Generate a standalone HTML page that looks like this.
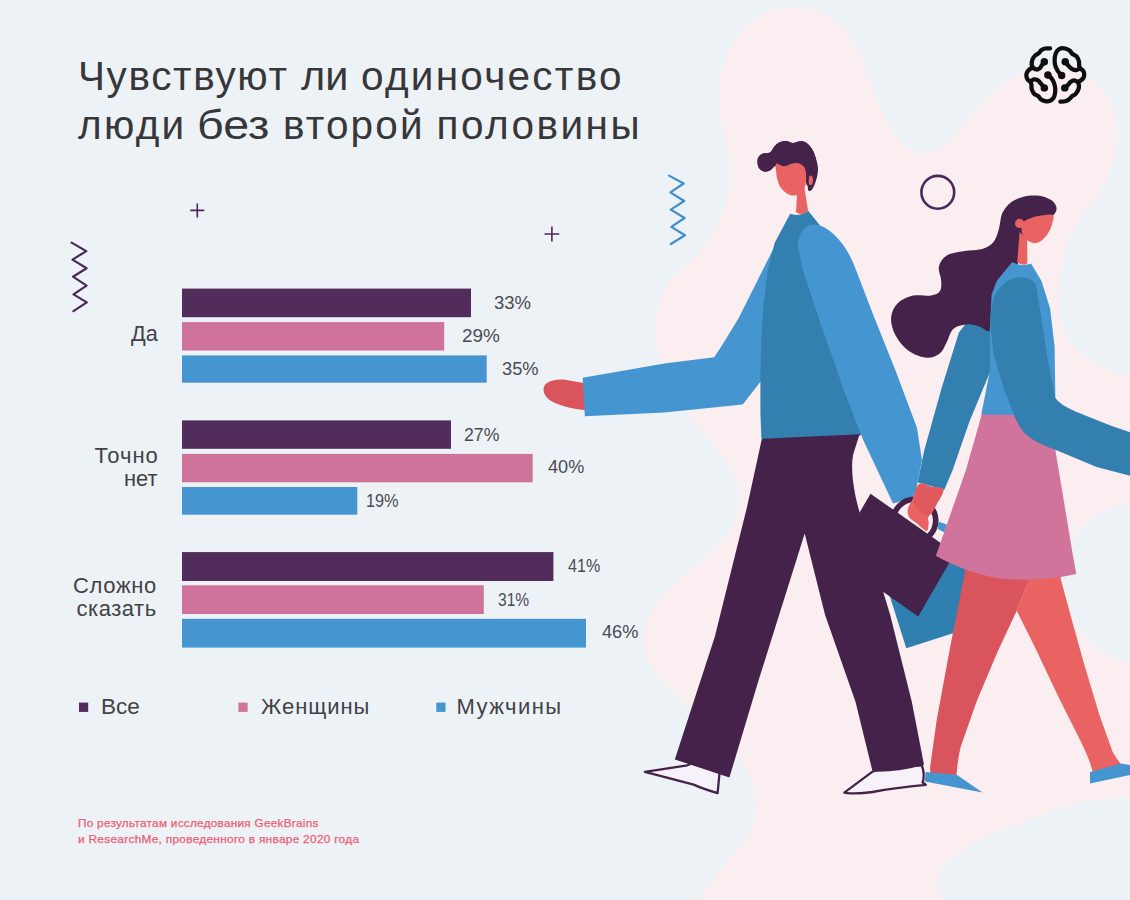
<!DOCTYPE html>
<html lang="ru">
<head>
<meta charset="utf-8">
<title>Чувствуют ли одиночество люди без второй половины</title>
<style>
  html, body { margin: 0; padding: 0; }
  body { width: 1130px; height: 900px; overflow: hidden; background: #edf2f7; font-family: "Liberation Sans", sans-serif; color: #38383b; }
  #stage { position: relative; width: 1130px; height: 900px; overflow: hidden; background: #edf2f7; }
  #art { position: absolute; left: 0; top: 0; width: 1130px; height: 900px; }
  .t { position: absolute; white-space: nowrap; line-height: 1; transform-origin: 0 0; }
  .title { color: #37373a; }
  .cat { color: #424246; }
  .val { color: #4a4b50; }
  .leg { color: #424246; }
  .foot { color: #ec5f76; -webkit-text-stroke: 0.25px #ec5f76; }
</style>
</head>
<body>
<div id="stage">
<svg id="art" viewBox="0 0 1130 900" width="1130" height="900">
  <!-- BLOB -->
  <g id="blob">
    <path d="M 798.0 7.0 C 809.4 7.8, 823.4 12.6, 832.9 18.7 C 842.4 24.8, 849.0 34.8, 854.7 43.6 C 860.4 52.4, 863.0 61.2, 867.1 71.6 C 871.2 82.0, 874.9 95.4, 879.6 105.8 C 884.3 116.2, 889.9 126.6, 895.1 133.8 C 900.3 141.1, 905.6 146.1, 910.7 149.3 C 915.9 152.5, 920.6 153.5, 926.0 153.0 C 931.4 152.5, 938.1 149.5, 943.3 146.2 C 948.5 142.9, 952.5 138.0, 957.0 133.0 C 961.5 128.0, 964.5 122.3, 970.0 116.0 C 975.5 109.7, 983.3 101.1, 990.0 95.0 C 996.7 88.9, 1003.3 83.4, 1010.0 79.5 C 1016.7 75.6, 1022.7 73.2, 1030.0 71.5 C 1037.3 69.8, 1046.0 68.8, 1054.0 69.0 C 1062.0 69.2, 1070.7 70.3, 1078.0 73.0 C 1085.3 75.7, 1092.3 79.7, 1098.0 85.0 C 1103.7 90.3, 1108.8 97.8, 1112.0 105.0 C 1115.2 112.2, 1116.8 120.5, 1117.5 128.0 C 1118.2 135.5, 1117.4 142.3, 1116.0 150.0 C 1114.6 157.7, 1112.0 166.5, 1109.0 174.0 C 1106.0 181.5, 1102.8 187.7, 1098.0 195.0 C 1093.2 202.3, 1085.2 209.7, 1080.0 218.0 C 1074.8 226.3, 1070.2 236.2, 1067.0 245.0 C 1063.8 253.8, 1062.5 262.2, 1061.0 271.0 C 1059.5 279.8, 1058.0 289.5, 1058.0 298.0 C 1058.0 306.5, 1058.8 314.5, 1061.0 322.0 C 1063.2 329.5, 1066.2 336.8, 1071.0 343.0 C 1075.8 349.2, 1083.3 354.5, 1090.0 359.0 C 1096.7 363.5, 1104.3 367.3, 1111.0 370.0 C 1117.7 372.7, 1123.5 373.7, 1130.0 375.0 C 1136.5 376.3, 1146.7 358.0, 1150.0 378.0 C 1153.3 398.0, 1153.3 474.5, 1150.0 495.0 C 1146.7 515.5, 1138.8 497.7, 1130.0 501.0 C 1121.2 504.3, 1106.0 509.2, 1097.0 515.0 C 1088.0 520.8, 1081.3 527.2, 1076.0 536.0 C 1070.7 544.8, 1067.2 558.5, 1065.0 568.0 C 1062.8 577.5, 1061.2 583.5, 1063.0 593.0 C 1064.8 602.5, 1069.7 615.5, 1076.0 625.0 C 1082.3 634.5, 1092.0 643.5, 1101.0 650.0 C 1110.0 656.5, 1121.8 661.0, 1130.0 664.0 C 1138.2 667.0, 1146.7 646.0, 1150.0 668.0 C 1153.3 690.0, 1153.3 774.5, 1150.0 796.0 C 1146.7 817.5, 1141.7 795.8, 1130.0 797.0 C 1118.3 798.2, 1096.7 799.2, 1080.0 803.0 C 1063.3 806.8, 1046.7 813.8, 1030.0 820.0 C 1013.3 826.2, 993.8 832.8, 980.0 840.0 C 966.2 847.2, 954.0 855.8, 947.0 863.0 C 940.0 870.2, 938.8 876.8, 938.0 883.0 C 937.2 889.2, 941.0 893.8, 942.0 900.0 C 943.0 906.2, 986.0 916.7, 944.0 920.0 C 902.0 923.3, 730.5 923.3, 690.0 920.0 C 649.5 916.7, 698.3 905.3, 701.0 900.0 C 703.7 894.7, 701.5 894.5, 706.0 888.0 C 710.5 881.5, 720.5 870.7, 728.0 861.0 C 735.5 851.3, 746.5 841.3, 751.0 830.0 C 755.5 818.7, 756.5 804.3, 755.0 793.0 C 753.5 781.7, 749.5 773.2, 742.0 762.0 C 734.5 750.8, 722.0 738.0, 710.0 726.0 C 698.0 714.0, 679.7 699.7, 670.0 690.0 C 660.3 680.3, 656.3 675.5, 652.0 668.0 C 647.7 660.5, 645.2 651.7, 644.0 645.0 C 642.8 638.3, 644.0 632.9, 645.0 628.0 C 646.0 623.1, 646.6 621.4, 650.0 615.6 C 653.4 609.8, 658.9 600.7, 665.6 593.3 C 672.3 585.9, 681.9 578.4, 690.0 571.0 C 698.1 563.6, 707.4 556.4, 714.4 549.0 C 721.4 541.6, 728.1 534.1, 732.2 526.7 C 736.3 519.3, 738.1 511.8, 738.9 504.4 C 739.6 497.0, 738.9 489.3, 736.7 482.2 C 734.5 475.1, 729.9 468.7, 725.6 462.0 C 721.3 455.3, 716.4 449.0, 711.0 442.0 C 705.6 435.0, 699.0 427.8, 693.0 420.0 C 687.0 412.2, 680.3 405.0, 675.0 395.0 C 669.7 385.0, 664.5 370.8, 661.0 360.0 C 657.5 349.2, 654.0 340.3, 654.0 330.0 C 654.0 319.7, 658.2 306.3, 661.0 298.0 C 663.8 289.7, 667.2 285.1, 671.0 280.0 C 674.8 274.9, 678.4 272.8, 683.6 267.6 C 688.8 262.4, 696.5 256.2, 702.2 248.9 C 707.9 241.6, 713.6 232.3, 717.8 224.0 C 721.9 215.7, 725.0 207.4, 727.1 199.1 C 729.2 190.8, 730.2 182.5, 730.2 174.2 C 730.2 165.9, 728.4 157.6, 727.1 149.3 C 725.8 141.0, 723.8 133.8, 722.5 124.5 C 721.2 115.2, 719.0 103.7, 719.3 93.3 C 719.5 82.9, 720.6 72.0, 724.0 62.2 C 727.4 52.4, 732.9 42.2, 739.6 34.2 C 746.4 26.2, 754.8 18.5, 764.5 14.0 C 774.2 9.5, 786.6 6.2, 798.0 7.0 Z" fill="#faeef1" />
  </g>
  <!-- DECOR -->
  <g id="decor">
    <path d="M 71.6 242.6 L 86.3 251.1 L 72.5 259.6 L 86.6 268.2 L 73.0 276.7 L 86.6 285.6 L 73.5 294.4 L 86.8 302.4 L 73.4 311.2" fill="none" stroke="#4a2859" stroke-width="2.2" stroke-linecap="round" stroke-linejoin="round"/>
    <path d="M 669.0 175.6 L 683.7 183.5 L 670.4 192.4 L 684.2 201.0 L 670.8 209.6 L 684.6 218.0 L 671.3 226.9 L 685.0 235.2 L 670.8 244.0" fill="none" stroke="#3f8fcf" stroke-width="2.2" stroke-linecap="round" stroke-linejoin="round"/>
    <path d="M 190.3 210.4 H 204.3 M 197.3 203.4 V 217.4" stroke="#4a2859" stroke-width="1.6" fill="none"/>
    <path d="M 544.5 234 H 559.3 M 551.9 226.6 V 241.4" stroke="#4a2859" stroke-width="1.6" fill="none"/>
    <circle cx="937.8" cy="192.3" r="16.4" fill="none" stroke="#4a2859" stroke-width="2.6"/>
  </g>
  <!-- BARS -->
  <g id="bars">
    <rect x="182" y="288.6" width="289" height="28.6" fill="#522c5b"/>
    <rect x="182" y="322.1" width="262.2" height="28.4" fill="#d0739a"/>
    <rect x="182" y="355.4" width="304.7" height="27.3" fill="#4595d0"/>

    <rect x="182" y="420.4" width="269" height="28.4" fill="#522c5b"/>
    <rect x="182" y="453.9" width="350.7" height="28.4" fill="#d0739a"/>
    <rect x="182" y="487" width="175.3" height="27.7" fill="#4595d0"/>

    <rect x="182" y="552.1" width="371.4" height="28.9" fill="#522c5b"/>
    <rect x="182" y="585.3" width="301.8" height="28.7" fill="#d0739a"/>
    <rect x="182" y="618.8" width="404" height="28.8" fill="#4595d0"/>

    <rect x="79" y="702.6" width="9.2" height="9.3" fill="#522c5b"/>
    <rect x="238.4" y="702.6" width="9.2" height="9.3" fill="#d0739a"/>
    <rect x="436.3" y="702.6" width="9.2" height="9.3" fill="#4595d0"/>
  </g>
  <!-- FIGURES -->
  <g id="figures">
    <path d="M 583.5 383.0 C 577.0 382.4, 567.1 379.6, 561.0 379.6 C 554.9 379.6, 549.9 381.2, 547.0 383.0 C 544.1 384.8, 543.3 387.8, 543.6 390.5 C 543.9 393.2, 545.4 396.8, 549.0 399.5 C 552.6 402.2, 559.1 404.8, 565.0 406.5 C 570.9 408.2, 578.7 409.6, 584.5 410.0 C 590.3 410.4, 597.4 413.5, 600.0 409.0 C 602.6 404.5, 602.8 387.3, 600.0 383.0 C 597.2 378.7, 590.0 383.6, 583.5 383.0 Z" fill="#d9545c" />
    <path d="M 790.7 214.2 L 771.1 253.3 L 739.1 317.3 Q 722 346 714.2 357.2 L 664.4 363.6 L 582.7 377.8 L 584.8 416.2 L 664.4 412.6 L 742.7 404.4 L 762.2 379.6 L 790 330 L 810 230 Z" fill="#4596d0" />
    <path d="M 888.4 591.8 L 906.3 648.3 L 985.0 623.0 L 985.0 556.0 L 925.0 556.0 Z" fill="#2f7fb0" />
    <path d="M 644.9 771.9 L 687.3 765.3 L 700 760 L 719.6 772 L 717.6 793.1 Q 702 788.5 693.7 784.6 Z" fill="#f7f2f9" stroke="#44224a" stroke-width="2.3" stroke-linejoin="round"/>
    <path d="M 844.3 792.6 L 872.5 771.7 L 890 765 L 921.9 765.5 Q 925.2 775 922.6 782.5 L 925.8 784.8 Q 895 787.5 872.5 792 Q 856 794.6 844.3 792.6 Z" fill="#f7f2f9" stroke="#44224a" stroke-width="2.3" stroke-linejoin="round"/>
    <path d="M 762.2 437.3 L 747.1 506.7 L 714.8 636.8 L 674.8 759.4 L 729.4 777.6 L 758.6 680.2 L 804.7 533.6 L 825.1 615.1 L 855.5 701.8 L 872.6 771.6 Q 898 772.5 924 764.7 L 911.8 701.8 L 890.2 615.1 L 864.1 528.4 Q 856.5 502 855 493.7 Q 850.5 470 853 455 L 859 436 L 866 430 L 762 430 Z" fill="#44224a" />
    <path d="M 790.2 213.8 Q 799 217 808.2 210.7 L 822 228 L 852 300 L 866 433.9 L 761.4 438.8 L 760.4 413.3 L 760.4 377.8 L 761.2 342.2 L 763.3 306.7 L 767.6 271.1 L 774.7 242.7 Z" fill="#3380b0" />
    <path d="M 757.5 162.0 C 757.4 160.2, 757.6 158.4, 758.5 157.0 C 759.4 155.6, 761.1 154.2, 763.0 153.5 C 764.9 152.8, 768.2 153.6, 770.0 152.5 C 771.8 151.4, 772.5 148.7, 774.0 147.0 C 775.5 145.3, 777.0 143.5, 779.0 142.5 C 781.0 141.5, 783.7 140.9, 786.0 141.0 C 788.3 141.1, 790.7 143.0, 793.0 143.0 C 795.3 143.0, 797.8 141.3, 800.0 141.2 C 802.2 141.1, 804.0 141.2, 806.0 142.5 C 808.0 143.8, 810.3 146.2, 812.0 149.0 C 813.7 151.8, 815.0 155.8, 816.0 159.0 C 817.0 162.2, 817.8 165.0, 818.0 168.0 C 818.2 171.0, 817.7 174.0, 817.0 177.0 C 816.3 180.0, 815.0 183.8, 814.0 186.0 C 813.0 188.2, 812.0 189.8, 811.0 190.5 C 810.0 191.2, 808.9 191.3, 808.2 190.2 C 807.5 189.1, 808.4 186.5, 807.0 184.0 C 805.6 181.5, 803.7 177.7, 800.0 175.0 C 796.3 172.3, 789.2 169.5, 785.0 168.0 C 780.8 166.5, 777.5 165.6, 775.0 166.0 C 772.5 166.4, 771.8 169.6, 770.0 170.5 C 768.2 171.4, 765.8 171.9, 764.0 171.5 C 762.2 171.1, 760.1 169.6, 759.0 168.0 C 757.9 166.4, 757.6 163.8, 757.5 162.0 Z" fill="#44224a" />
    <path d="M 797.3 190 L 796 212 Q 801 216.5 808 210.5 L 804.3 187 Z" fill="#ea6363" />
    <path d="M 776.2 160.0 C 774.2 162.7, 776.0 168.7, 776.2 172.0 C 776.4 175.3, 776.7 177.3, 777.5 180.0 C 778.3 182.7, 779.4 185.8, 781.0 188.0 C 782.6 190.2, 785.0 192.2, 787.0 193.5 C 789.0 194.8, 791.0 195.5, 793.0 195.6 C 795.0 195.7, 797.2 195.0, 799.0 194.0 C 800.8 193.0, 802.5 191.2, 803.6 189.5 C 804.7 187.8, 805.2 186.9, 805.6 184.0 C 806.0 181.1, 807.2 176.3, 806.3 172.0 C 805.4 167.7, 803.0 160.7, 800.0 158.0 C 797.0 155.3, 792.0 155.7, 788.0 156.0 C 784.0 156.3, 778.2 157.3, 776.2 160.0 Z" fill="#ea6363" />
    <ellipse cx="810.6" cy="180.2" rx="2.4" ry="4.8" fill="#ea6363"/>
    <path d="M 757.5 162.0 C 757.4 160.2, 757.6 158.4, 758.5 157.0 C 759.4 155.6, 761.1 154.2, 763.0 153.5 C 764.9 152.8, 768.2 153.6, 770.0 152.5 C 771.8 151.4, 772.5 148.7, 774.0 147.0 C 775.5 145.3, 777.0 143.5, 779.0 142.5 C 781.0 141.5, 783.7 140.9, 786.0 141.0 C 788.3 141.1, 790.7 143.0, 793.0 143.0 C 795.3 143.0, 797.8 141.3, 800.0 141.2 C 802.2 141.1, 804.0 141.2, 806.0 142.5 C 808.0 143.8, 810.3 146.2, 812.0 149.0 C 813.7 151.8, 815.5 156.0, 816.0 159.0 C 816.5 162.0, 815.9 164.7, 815.0 167.0 C 814.1 169.3, 811.5 171.1, 810.5 173.0 C 809.5 174.9, 809.2 176.6, 808.8 178.5 C 808.4 180.4, 808.7 183.5, 808.3 184.6 C 807.9 185.7, 807.0 186.4, 806.6 184.8 C 806.2 183.2, 806.5 177.7, 806.2 175.0 C 805.9 172.3, 805.7 170.2, 805.0 168.5 C 804.3 166.8, 803.3 165.9, 802.0 165.0 C 800.7 164.1, 798.7 163.2, 797.0 163.0 C 795.3 162.8, 793.8 163.1, 792.0 163.6 C 790.2 164.1, 787.8 165.7, 786.0 166.0 C 784.2 166.3, 782.5 165.9, 781.0 165.5 C 779.5 165.1, 778.0 163.4, 777.0 163.5 C 776.0 163.6, 776.2 164.8, 775.0 166.0 C 773.8 167.2, 771.8 169.6, 770.0 170.5 C 768.2 171.4, 765.8 171.9, 764.0 171.5 C 762.2 171.1, 760.1 169.6, 759.0 168.0 C 757.9 166.4, 757.6 163.8, 757.5 162.0 Z" fill="#44224a" />
    <path d="M 813.6 224.5 C 806 224.5, 799 231, 797.6 244.4 L 803.1 271.1 L 820.9 324.4 L 845.8 395.6 L 863.2 440 L 893 503.5 L 912.5 498 L 916 490 L 922 460 L 916.9 427.6 L 895.6 370.7 L 874.2 317.3 L 856.4 271.1 Q 848 247 833.1 233.8 Q 824 225 813.6 224.5 Z" fill="#4596d0" />
    <path d="M 975 312 L 958.9 332.6 L 941.7 387.7 L 924.4 449.7 L 917.6 482.6 L 944.3 489.8 L 952.5 470.4 L 969.2 422.2 L 990 372 L 998 332.6 L 1000 312 Z" fill="#3380b0" />
    <path d="M 870.5 493.7 L 955.0 553.0 L 918.2 616.4 L 833.7 557.1 Z" fill="#44224a" />
    <circle cx="914.5" cy="520.6" r="21.2" fill="none" stroke="#44224a" stroke-width="5.6"/>
    <path d="M 938.3 521.5 L 946.9 524.6 L 944.5 532.5 L 937.8 529.0 Z" fill="#4596d0" />
    <path d="M 937.3 497.6 L 939.8 498.4 L 939.2 500.8 L 937.0 500.2 Z" fill="#4596d0" />
    <path d="M 918.9 484.2 C 921.9 482.3, 926.9 485.6, 931.0 486.5 C 935.1 487.4, 942.4 486.8, 943.4 489.6 C 944.4 492.4, 939.1 499.4, 937.2 503.3 C 935.3 507.2, 933.7 510.4, 932.2 512.8 C 930.7 515.1, 928.8 515.6, 928.2 517.4 C 927.6 519.1, 928.9 521.0, 928.6 523.3 C 928.3 525.6, 928.6 531.0, 926.6 531.0 C 924.6 531.0, 919.6 525.6, 916.7 523.3 C 913.8 521.0, 910.8 519.6, 909.3 517.2 C 907.8 514.8, 907.2 512.1, 907.9 508.9 C 908.6 505.7, 911.5 501.9, 913.3 497.8 C 915.1 493.7, 915.9 486.1, 918.9 484.2 Z" fill="#ea6363" />
    <path d="M 918.9 484.6 C 921.8 482.8, 927.0 486.1, 931.0 487.0 C 935.0 487.9, 941.9 487.3, 942.9 490.0 C 943.9 492.7, 938.5 499.6, 936.7 503.3 C 934.9 507.0, 934.0 510.1, 932.0 512.0 C 930.0 513.9, 927.1 515.5, 924.4 514.6 C 921.7 513.7, 917.6 509.5, 915.8 506.7 C 914.0 503.9, 913.0 501.5, 913.5 497.8 C 914.0 494.1, 916.0 486.4, 918.9 484.6 Z" fill="#e0595f" />
    <path d="M 1056.6 208.6 C 1056.6 206.4, 1055.3 203.8, 1053.5 202.0 C 1051.7 200.2, 1048.8 198.7, 1046.0 197.6 C 1043.2 196.5, 1040.6 195.8, 1037.0 195.6 C 1033.4 195.4, 1028.7 195.3, 1024.4 196.4 C 1020.1 197.5, 1014.8 199.4, 1011.1 202.2 C 1007.4 205.0, 1004.2 208.9, 1002.2 213.3 C 1000.2 217.8, 1000.4 224.1, 998.9 228.9 C 997.4 233.7, 996.1 238.9, 993.3 242.2 C 990.5 245.5, 987.0 247.4, 982.2 248.9 C 977.4 250.4, 970.3 250.0, 964.4 251.1 C 958.5 252.2, 951.0 253.0, 946.7 255.6 C 942.5 258.2, 939.8 262.6, 938.9 266.7 C 938.0 270.8, 940.9 275.9, 941.1 280.0 C 941.3 284.1, 941.7 288.5, 940.0 291.1 C 938.3 293.7, 935.6 294.9, 931.1 295.6 C 926.6 296.4, 918.8 294.3, 913.3 295.6 C 907.8 296.9, 901.5 299.6, 897.8 303.3 C 894.1 307.0, 891.5 312.4, 891.1 317.8 C 890.7 323.2, 892.6 330.1, 895.6 335.6 C 898.6 341.2, 903.7 347.4, 908.9 351.1 C 914.1 354.8, 921.5 357.4, 926.7 357.8 C 931.9 358.2, 936.7 355.9, 940.0 353.3 C 943.3 350.7, 944.5 346.3, 946.7 342.2 C 948.9 338.1, 950.0 331.9, 953.3 328.9 C 956.6 325.9, 962.2 324.8, 966.7 324.4 C 971.2 324.0, 976.3 325.6, 980.0 326.7 C 983.7 327.8, 985.6 331.9, 988.9 331.1 C 992.2 330.3, 996.1 329.7, 1000.0 322.0 C 1003.9 314.3, 1008.3 297.0, 1012.0 285.0 C 1015.7 273.0, 1018.7 259.5, 1022.0 250.0 C 1025.3 240.5, 1028.0 233.1, 1032.0 228.0 C 1036.0 222.9, 1042.4 221.7, 1046.0 219.5 C 1049.6 217.3, 1051.8 216.8, 1053.6 215.0 C 1055.4 213.2, 1056.6 210.8, 1056.6 208.6 Z" fill="#44224a" />
    <path d="M 966 560 L 964.7 573.3 L 950 648 L 936.7 720 L 930 768 L 931 777.5 L 956.5 775 Q 957.5 760 960.7 746.7 L 976.7 701.3 L 998 650.7 L 1016.7 610.7 L 1030 578 L 1034 560 Z" fill="#d9545c" />
    <path d="M 1034 560 L 1029 580 L 1016.7 610.7 L 1035.3 648 L 1059.3 698.7 L 1080.7 741.3 Q 1090 760 1093 773 L 1121.5 765 Q 1116 758 1112.7 752 L 1099.3 714.7 L 1083.3 661.3 L 1070 613.3 L 1060.7 578.7 L 1062 560 Z" fill="#ea6363" />
    <path d="M 925.5 772.0 L 956.7 774.7 L 982.5 792.5 L 925.0 781.6 Z" fill="#4596d0" />
    <path d="M 1090.0 772.0 L 1120.7 763.6 L 1135.0 765.6 L 1135.0 774.0 L 1090.0 783.5 Z" fill="#4596d0" />
    <path d="M 983 410 L 965.8 470.4 L 935.9 555.8 C 950 564, 975 575, 1000 578.4 C 1025 581, 1052 579.5, 1076.3 574 L 1072.5 553 L 1062.2 491 L 1055.3 449.7 L 1052 410 Z" fill="#d0749c" />
    <path d="M 1012.2 262.1 Q 1021 266.5 1031.2 263.8 L 1041.5 281 L 1050.1 308.5 L 1054.6 346.4 L 1055.3 394.6 L 1055 415.5 L 981.3 414.6 L 989.9 370.5 L 989.9 329.2 L 991.6 294.8 L 996.7 281 Z" fill="#4596d0" />
    <path d="M 1019.6 232 L 1017.2 262.2 Q 1022 266 1027.4 263.4 L 1027.2 239 Z" fill="#ea6363" />
    <path d="M 1052.9 215.2 C 1054.7 216.6, 1052.8 221.1, 1052.1 224.0 C 1051.4 226.9, 1050.1 229.9, 1048.5 232.6 C 1046.9 235.2, 1044.5 238.1, 1042.3 239.9 C 1040.0 241.7, 1037.2 243.0, 1035.0 243.2 C 1032.8 243.4, 1030.7 242.3, 1028.9 241.3 C 1027.1 240.3, 1025.2 239.1, 1024.0 237.0 C 1022.8 234.9, 1021.5 231.6, 1021.5 229.0 C 1021.5 226.4, 1022.4 223.4, 1024.0 221.6 C 1025.6 219.8, 1028.5 218.9, 1031.3 217.9 C 1034.1 216.9, 1037.5 216.1, 1041.1 215.6 C 1044.7 215.1, 1051.1 213.8, 1052.9 215.2 Z" fill="#ea6363" />
    <circle cx="1019.6" cy="223.4" r="4.6" fill="#ea6363"/>
    <path d="M 1022.2 277.2 C 1010 277, 1000 284, 993.3 298 L 989.9 318.9 L 993.3 353.3 L 1003.6 387.7 L 1014 415.3 Q 1019 428 1027.7 436 Q 1038 444 1055.3 449.7 L 1096.6 466.9 L 1135 477 L 1135 434 L 1110.4 425.6 L 1076 411.8 Q 1060 405 1055.3 398.1 L 1048.4 363.6 L 1041.5 318.9 L 1036 284 Q 1031 277.5 1022.2 277.2 Z" fill="#3380b0" />
  </g><!--figures-end-->
  <!-- LOGO -->
  <g id="logo">
    <g transform="translate(1015,35) scale(0.08889)">
    <path fill="none" stroke="#0f0f10" stroke-width="48" stroke-linecap="round" stroke-linejoin="round" d="M 395.0 150.0 C 385.8 150.3, 356.7 148.3, 340.0 152.0 C 323.3 155.7, 307.0 163.2, 295.0 172.0 C 283.0 180.8, 279.7 195.0, 268.0 205.0 C 256.3 215.0, 237.2 219.5, 225.0 232.0 C 212.8 244.5, 201.2 262.8, 195.0 280.0 C 188.8 297.2, 187.2 320.3, 188.0 335.0 C 188.8 349.7, 203.8 359.7, 200.0 368.0 C 196.2 376.3, 175.8 376.3, 165.0 385.0 C 154.2 393.7, 141.2 406.7, 135.0 420.0 C 128.8 433.3, 126.3 450.8, 128.0 465.0 C 129.7 479.2, 137.7 495.5, 145.0 505.0 C 152.3 514.5, 165.3 512.8, 172.0 522.0 C 178.7 531.2, 182.3 545.3, 185.0 560.0 C 187.7 574.7, 183.0 593.3, 188.0 610.0 C 193.0 626.7, 202.7 647.0, 215.0 660.0 C 227.3 673.0, 249.5 677.7, 262.0 688.0 C 274.5 698.3, 277.0 712.5, 290.0 722.0 C 303.0 731.5, 322.5 742.0, 340.0 745.0 C 357.5 748.0, 379.2 746.7, 395.0 740.0 C 410.8 733.3, 425.5 721.7, 435.0 705.0 C 444.5 688.3, 449.8 662.5, 452.0 640.0 C 454.2 617.5, 452.5 591.7, 448.0 570.0 C 443.5 548.3, 433.8 526.7, 425.0 510.0 C 416.2 493.3, 404.2 480.0, 395.0 470.0 C 385.8 460.0, 374.2 453.3, 370.0 450.0"/>
    <path fill="none" stroke="#0f0f10" stroke-width="48" stroke-linecap="round" stroke-linejoin="round" d="M 200.0 368.0 C 206.7 371.3, 226.7 387.3, 240.0 388.0 C 253.3 388.7, 269.2 380.8, 280.0 372.0 C 290.8 363.2, 296.7 347.0, 305.0 335.0 C 313.3 323.0, 325.8 305.8, 330.0 300.0"/>
    <path fill="none" stroke="#0f0f10" stroke-width="48" stroke-linecap="round" stroke-linejoin="round" d="M 172.0 522.0 C 179.2 518.3, 200.7 502.0, 215.0 500.0 C 229.3 498.0, 245.5 502.5, 258.0 510.0 C 270.5 517.5, 278.0 530.8, 290.0 545.0 C 302.0 559.2, 323.3 586.7, 330.0 595.0"/>
    <path fill="none" stroke="#0f0f10" stroke-width="48" stroke-linecap="round" stroke-linejoin="round" d="M 510.0 750.0 C 519.2 749.2, 548.3 749.7, 565.0 745.0 C 581.7 740.3, 597.5 731.2, 610.0 722.0 C 622.5 712.8, 628.3 699.5, 640.0 690.0 C 651.7 680.5, 668.0 677.5, 680.0 665.0 C 692.0 652.5, 705.3 631.7, 712.0 615.0 C 718.7 598.3, 720.7 579.2, 720.0 565.0 C 719.3 550.8, 704.7 538.8, 708.0 530.0 C 711.3 521.2, 729.3 520.7, 740.0 512.0 C 750.7 503.3, 765.7 491.7, 772.0 478.0 C 778.3 464.3, 780.0 443.8, 778.0 430.0 C 776.0 416.2, 768.0 404.2, 760.0 395.0 C 752.0 385.8, 736.3 384.2, 730.0 375.0 C 723.7 365.8, 724.0 354.2, 722.0 340.0 C 720.0 325.8, 723.3 306.7, 718.0 290.0 C 712.7 273.3, 702.2 253.0, 690.0 240.0 C 677.8 227.0, 657.5 222.8, 645.0 212.0 C 632.5 201.2, 628.3 185.0, 615.0 175.0 C 601.7 165.0, 582.5 155.8, 565.0 152.0 C 547.5 148.2, 525.8 146.5, 510.0 152.0 C 494.2 157.5, 480.3 168.7, 470.0 185.0 C 459.7 201.3, 451.3 225.8, 448.0 250.0 C 444.7 274.2, 445.5 305.8, 450.0 330.0 C 454.5 354.2, 465.8 377.5, 475.0 395.0 C 484.2 412.5, 496.7 425.0, 505.0 435.0 C 513.3 445.0, 521.7 451.7, 525.0 455.0"/>
    <path fill="none" stroke="#0f0f10" stroke-width="48" stroke-linecap="round" stroke-linejoin="round" d="M 708.0 530.0 C 700.8 526.7, 678.8 510.3, 665.0 510.0 C 651.2 509.7, 636.2 519.7, 625.0 528.0 C 613.8 536.3, 608.8 548.8, 598.0 560.0 C 587.2 571.2, 566.3 589.2, 560.0 595.0"/>
    <path fill="none" stroke="#0f0f10" stroke-width="48" stroke-linecap="round" stroke-linejoin="round" d="M 730.0 375.0 C 723.0 378.3, 702.2 393.3, 688.0 395.0 C 673.8 396.7, 658.8 392.5, 645.0 385.0 C 631.2 377.5, 618.3 364.2, 605.0 350.0 C 591.7 335.8, 571.7 308.3, 565.0 300.0"/>
    <circle cx="330" cy="300" r="42" fill="#0f0f10"/>
    <circle cx="370" cy="450" r="42" fill="#0f0f10"/>
    <circle cx="330" cy="595" r="42" fill="#0f0f10"/>
    <circle cx="565" cy="300" r="42" fill="#0f0f10"/>
    <circle cx="525" cy="455" r="42" fill="#0f0f10"/>
    <circle cx="560" cy="595" r="42" fill="#0f0f10"/>
    </g>
  </g><!--logo-end-->
</svg>

<!-- TEXT-BEGIN -->
<div class="t title" id="w1" style="left:78.00px; top:56.22px; font-size:40.5px; letter-spacing:1.625px;">Чувствуют</div>
<div class="t title" id="w2" style="left:301.00px; top:56.22px; font-size:40.5px; letter-spacing:0.000px; transform:scaleX(1.0227);">ли</div>
<div class="t title" id="w3" style="left:361.00px; top:56.22px; font-size:40.5px; letter-spacing:2.260px;">одиночество</div>
<div class="t title" id="w4" style="left:78.00px; top:104.82px; font-size:40.5px; letter-spacing:2.267px;">люди</div>
<div class="t title" id="w5" style="left:196.50px; top:104.82px; font-size:40.5px; letter-spacing:0.000px; transform:scaleX(1.1501);">без</div>
<div class="t title" id="w6" style="left:283.00px; top:104.82px; font-size:40.5px; letter-spacing:2.120px;">второй</div>
<div class="t title" id="w7" style="left:436.50px; top:104.82px; font-size:40.5px; letter-spacing:2.457px;">половины</div>
<div class="t cat" id="c1" style="left:131.00px; top:322.88px; font-size:22px; letter-spacing:0.000px; transform:scaleX(0.9866);">Да</div>
<div class="t cat" id="c2a" style="left:94.50px; top:445.18px; font-size:22px; letter-spacing:1.000px;">Точно</div>
<div class="t cat" id="c2b" style="left:124.00px; top:468.28px; font-size:22px; letter-spacing:0.000px; transform:scaleX(0.9943);">нет</div>
<div class="t cat" id="c3a" style="left:73.00px; top:574.98px; font-size:22px; letter-spacing:0.640px;">Сложно</div>
<div class="t cat" id="c3b" style="left:76.50px; top:597.78px; font-size:22px; letter-spacing:0.533px;">сказать</div>
<div class="t val" id="v1" style="left:493.50px; top:294.59px; font-size:17.5px; letter-spacing:0.000px; transform:scaleX(1.0575);">33%</div>
<div class="t val" id="v2" style="left:462.00px; top:328.09px; font-size:17.5px; letter-spacing:0.000px; transform:scaleX(1.0802);">29%</div>
<div class="t val" id="v3" style="left:502.00px; top:360.99px; font-size:17.5px; letter-spacing:0.000px; transform:scaleX(1.0419);">35%</div>
<div class="t val" id="v4" style="left:464.00px; top:427.29px; font-size:17.5px; letter-spacing:0.000px; transform:scaleX(1.0123);">27%</div>
<div class="t val" id="v5" style="left:547.50px; top:459.39px; font-size:17.5px; letter-spacing:0.000px; transform:scaleX(1.0346);">40%</div>
<div class="t val" id="v6" style="left:365.50px; top:493.39px; font-size:17.5px; letter-spacing:0.000px; transform:scaleX(0.9295);">19%</div>
<div class="t val" id="v7" style="left:568.00px; top:558.39px; font-size:17.5px; letter-spacing:0.000px; transform:scaleX(0.9204);">41%</div>
<div class="t val" id="v8" style="left:498.00px; top:592.09px; font-size:17.5px; letter-spacing:0.000px; transform:scaleX(0.8893);">31%</div>
<div class="t val" id="v9" style="left:601.50px; top:623.89px; font-size:17.5px; letter-spacing:0.000px; transform:scaleX(1.0400);">46%</div>
<div class="t leg" id="l1" style="left:100.50px; top:696.08px; font-size:22px; letter-spacing:0.000px; transform:scaleX(1.0225);">Все</div>
<div class="t leg" id="l2" style="left:261.00px; top:696.28px; font-size:22px; letter-spacing:0.933px;">Женщины</div>
<div class="t leg" id="l3" style="left:456.50px; top:696.48px; font-size:22px; letter-spacing:1.433px;">Мужчины</div>
<div class="t foot" id="f1" style="left:78.00px; top:819.37px; font-size:10.2px; letter-spacing:0.250px; transform:scaleX(1.1513);">По результатам исследования GeekBrains</div>
<div class="t foot" id="f2" style="left:78.00px; top:834.87px; font-size:10.2px; letter-spacing:0.250px; transform:scaleX(1.1631);">и ResearchMe, проведенного в январе 2020 года</div>
<!-- TEXT-END -->
</div>
</body>
</html>
